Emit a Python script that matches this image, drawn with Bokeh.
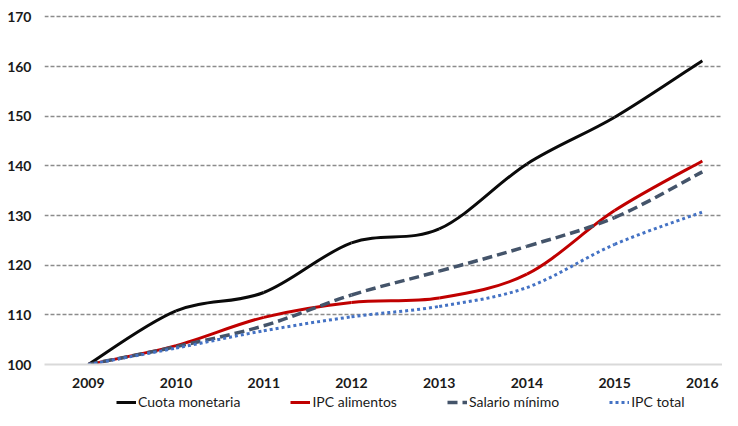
from bokeh.plotting import figure
from bokeh.layouts import column
from bokeh.models import Range1d, FixedTicker, Legend, LegendItem, ColumnDataSource
from bokeh.embed import file_html
from bokeh.resources import INLINE

years = [2009, 2010, 2011, 2012, 2013, 2014, 2015, 2016]
cuota = [100, 110.8, 114.5, 124.5, 127.3, 140.4, 149.8, 161.2]
alimentos = [100, 103.8, 109.5, 112.5, 113.4, 118.2, 131.0, 141.0]
salario = [100, 103.6, 107.8, 114.0, 118.8, 123.8, 129.6, 138.8]
ipc_total = [100, 103.3, 106.8, 109.6, 111.7, 115.5, 124.2, 130.7]
y_ticks = [100, 110, 120, 130, 140, 150, 160, 170]
names = ["Cuota monetaria", "IPC alimentos", "Salario mínimo", "IPC total"]

FONT = "Lato"

p = figure(width=722, height=390, output_backend="svg", toolbar_location=None,
           x_range=Range1d(2008.5, 2016.23), y_range=Range1d(100, 170.5),
           min_border_left=44, min_border_right=0, min_border_top=14,
           min_border_bottom=24)
p.outline_line_color = None
p.background_fill_color = "white"
p.border_fill_color = "white"


def bezier_source(xs, ys):
    n = len(xs)
    d = dict(x0=[], y0=[], x1=[], y1=[], cx0=[], cy0=[], cx1=[], cy1=[])
    for i in range(n - 1):
        a = i - 1 if i > 0 else i
        b = i + 2 if i + 2 < n else i + 1
        d["x0"].append(xs[i]); d["y0"].append(ys[i])
        d["x1"].append(xs[i + 1]); d["y1"].append(ys[i + 1])
        d["cx0"].append(xs[i] + (xs[i + 1] - xs[a]) / 6)
        d["cy0"].append(ys[i] + (ys[i + 1] - ys[a]) / 6)
        d["cx1"].append(xs[i + 1] - (xs[b] - xs[i]) / 6)
        d["cy1"].append(ys[i + 1] - (ys[b] - ys[i]) / 6)
    return ColumnDataSource(d)


styles = [
    dict(line_color="#0a0a0a", line_width=3),
    dict(line_color="#c00000", line_width=3),
    dict(line_color="#44546a", line_width=3.5, line_dash="10 5"),
    dict(line_color="#4472c4", line_width=3, line_dash="3 3"),
]
series = [cuota, alimentos, salario, ipc_total]

# legend strip figure (its lines fall outside its own range; only the key shows)
lg = figure(width=722, height=20, output_backend="svg", toolbar_location=None,
            x_axis_type=None, y_axis_type=None, min_border=0,
            x_range=Range1d(0, 1), y_range=Range1d(0, 1))
lg.outline_line_color = None
lg.xgrid.grid_line_color = None
lg.ygrid.grid_line_color = None

items = []
for name, ys, st in zip(names, series, styles):
    src = bezier_source(years, ys)
    p.bezier(x0="x0", y0="y0", x1="x1", y1="y1", cx0="cx0", cy0="cy0",
             cx1="cx1", cy1="cy1", source=src, **st)
    leg = lg.line(x=years, y=ys, **st)
    items.append(LegendItem(label=name, renderers=[leg]))

# axes
p.xaxis.ticker = FixedTicker(ticks=years)
p.xaxis.axis_line_color = "#d9d9d9"
p.xaxis.axis_line_width = 2
p.xaxis.major_tick_line_color = None
p.xaxis.minor_tick_line_color = None
p.xaxis.major_label_standoff = 7
p.xaxis.major_label_text_font = FONT
p.xaxis.major_label_text_font_size = "14px"
p.xaxis.major_label_text_font_style = "bold"
p.xaxis.major_label_text_color = "#1a1a1a"

p.yaxis.ticker = FixedTicker(ticks=y_ticks)
p.yaxis.axis_line_color = None
p.yaxis.major_tick_line_color = None
p.yaxis.minor_tick_line_color = None
p.yaxis.major_label_standoff = 7
p.yaxis.major_label_text_font = FONT
p.yaxis.major_label_text_font_size = "14px"
p.yaxis.major_label_text_font_style = "bold"
p.yaxis.major_label_text_color = "#1a1a1a"

p.xgrid.grid_line_color = None
p.ygrid.ticker = FixedTicker(ticks=y_ticks[1:])
p.ygrid.grid_line_color = "#8c8c8c"
p.ygrid.grid_line_width = 1.3
p.ygrid.grid_line_dash = "4 2"

legend = Legend(items=items, orientation="horizontal", location=(72, 0),
                padding=0, margin=0, spacing=50, label_standoff=2,
                glyph_width=20, glyph_height=16, label_height=16,
                label_text_font=FONT, label_text_font_size="14px",
                label_text_color="#1a1a1a", border_line_color=None,
                background_fill_alpha=0)
lg.add_layout(legend, "center")

layout = column(p, lg, spacing=0)
open("out.html", "w").write(file_html(layout, INLINE))
